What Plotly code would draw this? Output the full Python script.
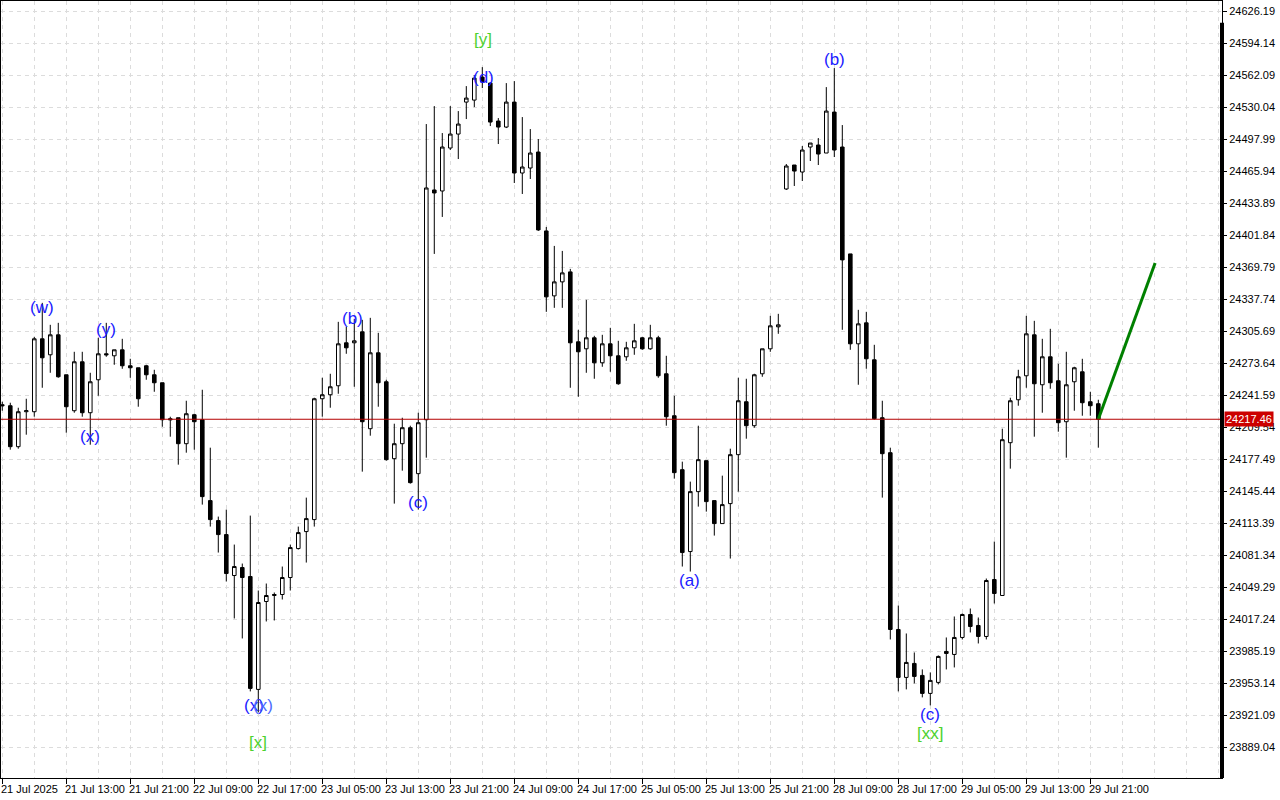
import plotly.graph_objects as go

# ---------------- data (H1 candles, index 0 = 21 Jul 2025 05:00) ----------------
opens = [24232, 24231, 24190, 24225, 24225, 24298, 24282, 24302, 24262, 24226,
         24275, 24224, 24257, 24283, 24281, 24287, 24271, 24269, 24271, 24262,
         24254, 24218, 24219, 24193, 24222, 24217, 24136, 24116, 24102, 24061,
         24069, 24060, 23947, 24035, 24041, 24042, 24059, 24088, 24105, 24117,
         24238, 24242, 24251, 24294, 24294, 24305, 24208, 24284, 24255, 24178,
         24193, 24209, 24163, 24217, 24447, 24446, 24489, 24503, 24535, 24537,
         24560, 24554, 24516, 24510, 24535, 24464, 24469, 24485, 24406, 24341,
         24355, 24365, 24295, 24288, 24299, 24274, 24293, 24281, 24280, 24289,
         24299, 24288, 24299, 24263, 24221, 24167, 24085, 24145, 24176, 24136,
         24113, 24133, 24182, 24235, 24211, 24263, 24288, 24310, 24448, 24472,
         24465, 24490, 24492, 24484, 24525, 24490, 24383, 24293, 24314, 24277,
         24219, 24184, 24007, 23959, 23973, 23961, 23943, 23954, 23985, 23982,
         23999, 24022, 24011, 24000, 24057, 24041, 24194, 24237, 24261, 24302,
         24252, 24280, 24256, 24215, 24255, 24265, 24235, 24233]
highs = [24235, 24234, 24229, 24238, 24300, 24334, 24312, 24314, 24262, 24285,
         24285, 24264, 24299, 24314, 24287, 24298, 24278, 24269, 24272, 24267,
         24254, 24220, 24219, 24236, 24223, 24247, 24189, 24120, 24127, 24092,
         24073, 24121, 24046, 24053, 24044, 24070, 24092, 24110, 24139, 24239,
         24259, 24263, 24315, 24310, 24318, 24317, 24319, 24304, 24257, 24213,
         24219, 24211, 24224, 24513, 24531, 24504, 24531, 24526, 24551, 24562,
         24570, 24555, 24519, 24554, 24556, 24520, 24508, 24498, 24410, 24391,
         24386, 24368, 24307, 24337, 24301, 24302, 24309, 24296, 24295, 24313,
         24300, 24312, 24301, 24281, 24241, 24175, 24155, 24211, 24176, 24136,
         24161, 24188, 24259, 24258, 24263, 24288, 24321, 24323, 24473, 24472,
         24491, 24494, 24499, 24550, 24569, 24512, 24383, 24327, 24325, 24292,
         24236, 24189, 24031, 24003, 23984, 23967, 23964, 23981, 23999, 24020,
         24023, 24028, 24019, 24058, 24095, 24208, 24239, 24267, 24321, 24316,
         24298, 24308, 24273, 24285, 24270, 24278, 24245, 24237]
lows = [24226, 24187, 24188, 24202, 24220, 24249, 24264, 24259, 24204, 24224,
        24220, 24192, 24241, 24280, 24272, 24268, 24259, 24230, 24257, 24245,
        24210, 24200, 24172, 24184, 24187, 24132, 24110, 24084, 24055, 24018,
        23998, 23945, 23924, 24015, 24016, 24037, 24046, 24087, 24074, 24110,
        24220, 24229, 24243, 24283, 24250, 24165, 24201, 24230, 24176, 24133,
        24166, 24153, 24127, 24179, 24383, 24420, 24487, 24478, 24518, 24530,
        24549, 24511, 24493, 24509, 24454, 24443, 24458, 24406, 24325, 24329,
        24329, 24249, 24240, 24264, 24258, 24270, 24265, 24252, 24276, 24282,
        24287, 24287, 24259, 24211, 24158, 24070, 24065, 24130, 24125, 24101,
        24113, 24078, 24145, 24198, 24209, 24260, 24285, 24303, 24447, 24451,
        24456, 24476, 24472, 24484, 24480, 24307, 24287, 24252, 24268, 24217,
        24139, 23997, 23945, 23947, 23953, 23939, 23931, 23952, 23967, 23969,
        23997, 24004, 23993, 23997, 24033, 24041, 24168, 24231, 24249, 24200,
        24224, 24248, 24205, 24179, 24226, 24221, 24221, 24189]
closes = [24231, 24190, 24225, 24226, 24298, 24279, 24302, 24260, 24230, 24275,
          24224, 24255, 24283, 24282, 24287, 24271, 24269, 24238, 24262, 24254,
          24217, 24217, 24193, 24223, 24215, 24140, 24117, 24102, 24063, 24070,
          24059, 23948, 24034, 24041, 24042, 24059, 24089, 24104, 24118, 24238,
          24242, 24250, 24293, 24289, 24296, 24215, 24284, 24254, 24177, 24193,
          24209, 24154, 24214, 24449, 24444, 24490, 24503, 24513, 24539, 24559,
          24555, 24515, 24510, 24535, 24464, 24470, 24484, 24407, 24340, 24355,
          24364, 24294, 24285, 24299, 24274, 24293, 24281, 24253, 24289, 24296,
          24288, 24299, 24261, 24220, 24164, 24084, 24145, 24177, 24135, 24113,
          24132, 24182, 24236, 24211, 24262, 24288, 24311, 24312, 24471, 24466,
          24487, 24494, 24483, 24526, 24487, 24377, 24293, 24313, 24278, 24218,
          24183, 24007, 23959, 23974, 23960, 23943, 23956, 23980, 23983, 23999,
          24022, 24010, 24000, 24056, 24043, 24197, 24236, 24260, 24303, 24253,
          24280, 24254, 24214, 24252, 24269, 24234, 24231, 24217.46]

bar_index = list(range(len(opens)))

x_tick_bars = [0, 8, 16, 24, 32, 40, 48, 56, 64, 72, 80, 88, 96, 104, 112, 120, 128, 136]
x_tick_labels = ["21 Jul 2025", "21 Jul 13:00", "21 Jul 21:00", "22 Jul 09:00", "22 Jul 17:00",
                 "23 Jul 05:00", "23 Jul 13:00", "23 Jul 21:00", "24 Jul 09:00", "24 Jul 17:00",
                 "25 Jul 05:00", "25 Jul 13:00", "25 Jul 21:00", "28 Jul 09:00", "28 Jul 17:00",
                 "29 Jul 05:00", "29 Jul 13:00", "29 Jul 21:00"]

y_tick_values = [24626.19, 24594.14, 24562.09, 24530.04, 24497.99, 24465.94, 24433.89,
                 24401.84, 24369.79, 24337.74, 24305.69, 24273.64, 24241.59, 24209.54,
                 24177.49, 24145.44, 24113.39, 24081.34, 24049.29, 24017.24, 23985.19,
                 23953.14, 23921.09, 23889.04]

current_price = 24217.46

# wave labels: (bar position, price, text, colour)
wave_x = [5, 11, 13, 31.5, 32.6, 32, 43.8, 52, 60.1, 60.1, 85.9, 104, 116, 116]
wave_y = [24329, 24200, 24307, 23931, 23931, 23894, 24318, 24134, 24598, 24560, 24056, 24578, 23922, 23903]
wave_text = ["(w)", "(x)", "(y)", "(x)", "(x)", "[x]", "(b)", "(c)", "[y]", "(d)", "(a)", "(b)", "(c)", "[xx]"]
wave_color = ["#1a1aff", "#1a1aff", "#1a1aff", "#1a1aff", "#4d6bff", "#4cd12e", "#1a1aff", "#1a1aff",
              "#4cd12e", "#1a1aff", "#1a1aff", "#1a1aff", "#1a1aff", "#4cd12e"]

# forecast line
forecast_x = [137, 144.1]
forecast_y = [24217.46, 24374]

# ---------------- figure ----------------
fig = go.Figure()

fig.add_trace(go.Candlestick(
    x=bar_index, open=opens, high=highs, low=lows, close=closes,
    increasing=dict(fillcolor="white", line=dict(color="black", width=1)),
    decreasing=dict(fillcolor="black", line=dict(color="black", width=1)),
    whiskerwidth=0, showlegend=False, hoverinfo="skip",
))

fig.add_trace(go.Scatter(
    x=forecast_x, y=forecast_y, mode="lines",
    line=dict(color="#008000", width=3), showlegend=False, hoverinfo="skip",
))

GRID = "#dcdcdc"
fig.update_layout(
    width=1280, height=800,
    margin=dict(l=1, r=58, t=1, b=22, pad=0),
    paper_bgcolor="white", plot_bgcolor="white",
    boxgap=0.36,
    showlegend=False,
    font=dict(family="Liberation Sans", size=11, color="black"),
)

fig.update_xaxes(
    range=[-0.16, 152.46],
    rangeslider_visible=False,
    tickmode="array", tickvals=x_tick_bars, showticklabels=False,
    ticks="outside", ticklen=5, tickcolor="black", tickwidth=1,
    showgrid=True, gridcolor=GRID, griddash="4px,4px", gridwidth=1,
    minor=dict(tick0=0, dtick=4, showgrid=True, gridcolor=GRID, griddash="4px,4px", ticks=""),
    showline=True, linecolor="black", linewidth=1, mirror=True,
    zeroline=False, fixedrange=True,
)

fig.update_yaxes(
    range=[23858.3, 24636.2],
    side="right",
    tickmode="array", tickvals=y_tick_values, ticktext=[f"{v:.2f}" for v in y_tick_values],
    ticks="outside", ticklen=4, tickcolor="black",
    tickfont=dict(family="Liberation Sans Narrow, Liberation Sans", size=11, color="black"),
    showgrid=True, gridcolor=GRID, griddash="4px,4px", gridwidth=1,
    showline=True, linecolor="black", linewidth=1, mirror=True,
    zeroline=False, fixedrange=True,
)

# current price line
fig.add_shape(type="line", xref="paper", yref="y", x0=0, x1=1, y0=current_price, y1=current_price,
              line=dict(color="#b40000", width=1), layer="above")
# thick right edge bar
fig.add_shape(type="line", xref="paper", yref="paper", x0=1, x1=1, y0=0, y1=0.972,
              line=dict(color="black", width=4), layer="above")

annotations = []
for xv, yv, t, c in zip(wave_x, wave_y, wave_text, wave_color):
    annotations.append(dict(x=xv, y=yv, xref="x", yref="y", text=t, showarrow=False,
                            font=dict(family="Liberation Sans", size=17, color=c),
                            xanchor="center", yanchor="middle"))

for b, lab in zip(x_tick_bars, x_tick_labels):
    annotations.append(dict(x=b, y=0, xref="x", yref="paper", text=lab, showarrow=False,
                            xanchor="left", yanchor="top", xshift=-3, yshift=-3,
                            font=dict(family="Liberation Sans Narrow, Liberation Sans", size=11, color="black")))

annotations.append(dict(x=1, y=current_price, xref="paper", yref="y", text=f"{current_price:.2f}",
                        showarrow=False, xanchor="left", yanchor="middle", xshift=2,
                        bgcolor="#cc0000", borderpad=1,
                        font=dict(family="Liberation Sans Narrow, Liberation Sans", size=11, color="white")))

fig.update_layout(annotations=annotations)

fig.write_html("out.html", config={"displayModeBar": False},
               post_script="document.body.style.margin='0';")
